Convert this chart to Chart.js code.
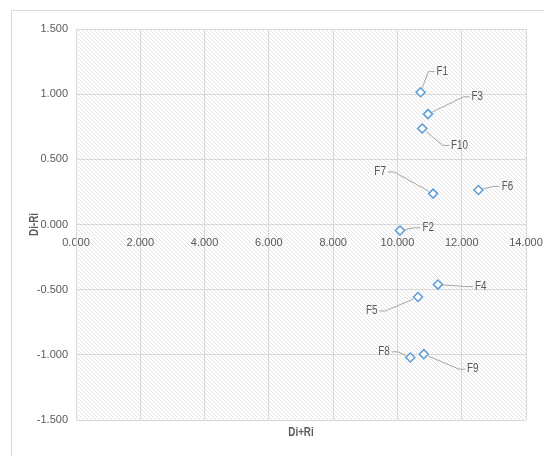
<!DOCTYPE html>
<html>
<head>
<meta charset="utf-8">
<script src="https://cdn.jsdelivr.net/npm/chart.js@4/dist/chart.umd.min.js"></script>
<style>
  html, body { margin: 0; padding: 0; background: #ffffff; }
  #wrap { position: relative; width: 544px; height: 456px; }
</style>
</head>
<body>
<div id="wrap"><canvas id="c" width="544" height="456"></canvas></div>
<script>
// ---- data ----
const labels = ['F1', 'F2', 'F3', 'F4', 'F5', 'F6', 'F7', 'F8', 'F9', 'F10'];
const sumDR  = [10.72, 10.08, 10.95, 11.26, 10.64, 12.52, 11.11, 10.40, 10.82, 10.77]; // Di+Ri
const diffDR = [1.015, -0.046, 0.847, -0.461, -0.556, 0.265, 0.237, -1.020, -0.995, 0.737]; // Di-Ri
const xTicks = [0, 2, 4, 6, 8, 10, 12, 14];
const yTicks = [-1.5, -1, -0.5, 0, 0.5, 1, 1.5];

// ---- label placement (pixel offsets of each data label from its point; style only) ----
const labelOffsets = [
  [21.6, -20.6], [28.3, -2.7], [49.3, -17.3], [42.7, 2], [-46.3, 14],
  [29, -3.6], [-53, -21.7], [-26.3, -5.6], [49, 15], [37.3, 17]
];

const TEXT = '#595959';
const GRID = '#d9d9d9';
const FONT = "'Liberation Sans', Arial, sans-serif";
const SQUEEZE = 0.82; // horizontal compression to mimic a narrow font

const points = labels.map((l, i) => ({ x: sumDR[i], y: diffDR[i] }));

function makeHatch() {
  const c = document.createElement('canvas');
  c.width = 4; c.height = 4;
  const g = c.getContext('2d');
  g.fillStyle = '#ffffff';
  g.fillRect(0, 0, 4, 4);
  g.strokeStyle = '#e4e4e4';
  g.lineWidth = 1;
  g.beginPath();
  g.moveTo(-1, -1); g.lineTo(5, 5);
  g.moveTo(-1, 3); g.lineTo(1, 5);
  g.moveTo(3, -1); g.lineTo(5, 1);
  g.stroke();
  return c;
}

function narrowText(ctx, txt, x, y) {
  ctx.save();
  ctx.translate(x, y);
  ctx.scale(SQUEEZE, 1);
  ctx.fillText(txt, 0, 0);
  ctx.restore();
}

const decor = {
  id: 'decor',
  beforeDraw(chart) {
    const ctx = chart.ctx;
    const a = chart.chartArea;
    ctx.save();
    ctx.strokeStyle = GRID;
    ctx.lineWidth = 1;
    ctx.beginPath();
    ctx.moveTo(11.5, 460); ctx.lineTo(11.5, 10.5); ctx.lineTo(560, 10.5);
    ctx.stroke();
    ctx.fillStyle = ctx.createPattern(makeHatch(), 'repeat');
    ctx.fillRect(a.left, a.top, a.right - a.left, a.bottom - a.top);
    ctx.restore();
  },
  afterDraw(chart) {
    const ctx = chart.ctx;
    const a = chart.chartArea;
    const xs = chart.scales.x, ys = chart.scales.y;
    ctx.save();
    ctx.fillStyle = TEXT;
    ctx.font = 'bold 12px ' + FONT;
    ctx.textAlign = 'center';
    ctx.textBaseline = 'middle';
    narrowText(ctx, 'Di+Ri', (a.left + a.right) / 2, 433);
    ctx.save();
    ctx.translate(35, (a.top + a.bottom) / 2);
    ctx.rotate(-Math.PI / 2);
    narrowText(ctx, 'Di-Ri', 0, 0);
    ctx.restore();

    ctx.font = '12px ' + FONT;
    labels.forEach((lab, i) => {
      const px = xs.getPixelForValue(sumDR[i]);
      const py = ys.getPixelForValue(diffDR[i]);
      const [dx, dy] = labelOffsets[i];
      const lx = px + dx, ly = py + dy;
      const w = ctx.measureText(lab).width * SQUEEZE;
      const right = dx > 0;
      const edge = right ? lx - w / 2 - 2 : lx + w / 2 + 2;
      const elbow = right ? edge - 6 : edge + 6;
      const vx = elbow - px, vy = ly - py;
      const len = Math.hypot(vx, vy) || 1;
      const sx = px + vx / len * 5, sy = py + vy / len * 5;
      ctx.strokeStyle = '#a6a6a6';
      ctx.lineWidth = 1;
      ctx.beginPath();
      ctx.moveTo(sx, sy);
      ctx.lineTo(elbow, ly);
      ctx.lineTo(edge, ly);
      ctx.stroke();
      ctx.fillStyle = TEXT;
      narrowText(ctx, lab, lx, ly);
    });
    ctx.restore();
  }
};

new Chart(document.getElementById('c'), {
  type: 'scatter',
  data: {
    datasets: [{
      data: points,
      pointStyle: 'rectRot',
      pointRadius: 4.5,
      pointHoverRadius: 4.5,
      pointBorderWidth: 1.5,
      borderColor: '#5b9bd5',
      backgroundColor: '#ffffff',
      showLine: false
    }]
  },
  options: {
    responsive: false,
    animation: false,
    events: [],
    layout: { padding: { left: 0, top: 29, right: 18, bottom: 36 } },
    plugins: { legend: { display: false }, tooltip: { enabled: false } },
    scales: {
      x: {
        type: 'linear',
        position: { y: 0 },
        min: xTicks[0], max: xTicks[xTicks.length - 1],
        afterBuildTicks: s => { s.ticks = xTicks.map(v => ({ value: v })); },
        afterFit: s => { s.paddingLeft = 0; s.paddingRight = 0; },
        ticks: {
          color: TEXT, font: { family: FONT, size: 11 }, padding: 12,
          maxRotation: 0, autoSkip: false,
          callback: v => Number(v).toFixed(3)
        },
        grid: { color: GRID, lineWidth: 1, drawTicks: false },
        border: { display: true, color: GRID, width: 1 }
      },
      y: {
        type: 'linear',
        position: 'left',
        min: yTicks[0], max: yTicks[yTicks.length - 1],
        afterBuildTicks: s => { s.ticks = yTicks.map(v => ({ value: v })); },
        afterFit: s => { s.width = 76; s.paddingTop = 0; s.paddingBottom = 0; },
        ticks: {
          color: TEXT, font: { family: FONT, size: 11 }, padding: 8,
          autoSkip: false,
          callback: v => Number(v).toFixed(3)
        },
        grid: { color: GRID, lineWidth: 1, drawTicks: false },
        border: { display: true, color: GRID, width: 1 }
      }
    }
  },
  plugins: [decor]
});
</script>
</body>
</html>
